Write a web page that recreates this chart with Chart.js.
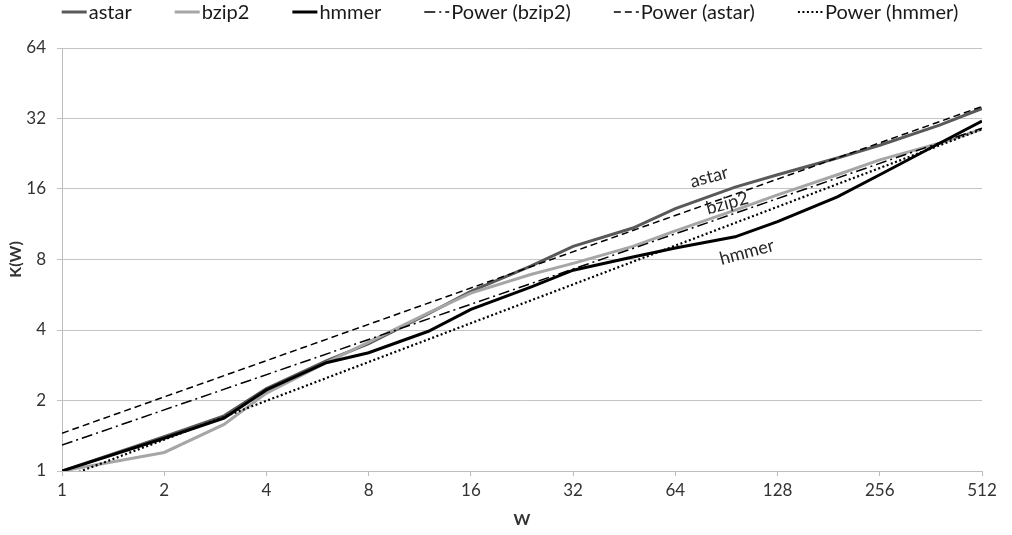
<!DOCTYPE html>
<html>
<head>
<meta charset="utf-8">
<script src="https://cdn.jsdelivr.net/npm/chart.js@4"></script>
<style>
  body { margin: 0; background: #fff; }
</style>
</head>
<body>
<canvas id="chart" width="1012" height="535"></canvas>
<script>
const wValues = [1, 2, 3, 4, 6, 8, 12, 16, 24, 32, 48, 64, 96, 128, 192, 256, 384, 512];
const astar = [1, 1.4, 1.72, 2.25, 2.95, 3.5, 4.7, 5.85, 7.5, 9.1, 10.9, 13.2, 16.3, 18.4, 21.7, 24.6, 30, 35.3];
const bzip2 = [1, 1.2, 1.58, 2.15, 2.9, 3.55, 4.73, 5.75, 6.9, 7.7, 9.1, 10.6, 13.0, 15.1, 18.4, 21.3, 25.1, 28.8];
const hmmer = [1, 1.38, 1.68, 2.22, 2.9, 3.2, 3.95, 4.9, 6.1, 7.2, 8.2, 8.95, 10, 11.6, 14.8, 18.4, 25.1, 31.2];

// trendline end points (W = 1 and W = 512)
const powerX = [1, 512];
const powerBzip2 = [1.29, 29.1];
const powerAstar = [1.45, 36];
const powerHmmer = [0.93, 28.8];

const xTicks = [1, 2, 4, 8, 16, 32, 64, 128, 256, 512];
const yTicks = [1, 2, 4, 8, 16, 32, 64];

// in-plot series labels: [text, W, K]
const seriesLabels = [
  ['astar', 80.5, 18],
  ['bzip2', 91, 13.9],
  ['hmmer', 104, 8.6]
];

const FONT = 'Lato, "Liberation Sans", Arial, sans-serif';

function points(xs, ys) {
  return xs.map((x, i) => ({ x: x, y: ys[i] }));
}

function lineSet(label, ys, color, order) {
  return {
    label: label,
    data: points(wValues, ys),
    borderColor: color,
    borderWidth: 3,
    pointRadius: 0,
    fill: false,
    tension: 0,
    order: order
  };
}

function powerSet(label, ys, dash, width) {
  return {
    label: label,
    data: points(powerX, ys),
    borderColor: '#000',
    borderWidth: width,
    borderDash: dash,
    pointRadius: 0,
    fill: false,
    order: 0
  };
}

const datasets = [
  lineSet('astar', astar, '#595959', 3),
  lineSet('bzip2', bzip2, '#a6a6a6', 2),
  lineSet('hmmer', hmmer, '#000000', 1),
  powerSet('Power (bzip2)', powerBzip2, [11, 4, 2, 4], 1.5),
  powerSet('Power (astar)', powerAstar, [7, 4], 1.5),
  powerSet('Power (hmmer)', powerHmmer, [2, 2.5], 2.2)
];

const legendPlugin = {
  id: 'topLegend',
  afterDraw(chart) {
    const ctx = chart.ctx;
    ctx.save();
    ctx.font = '20px ' + FONT;
    ctx.textBaseline = 'middle';
    const sample = 25, gapText = 2, gapItem = 43, y = 12;
    const widths = datasets.map(d => sample + gapText + ctx.measureText(d.label).width);
    const total = widths.reduce((a, b) => a + b, 0) + gapItem * (datasets.length - 1);
    let x = 510 - total / 2;
    datasets.forEach((d, i) => {
      ctx.beginPath();
      ctx.setLineDash(d.borderDash || []);
      ctx.lineWidth = d.borderWidth;
      ctx.strokeStyle = d.borderColor;
      ctx.moveTo(x, y);
      ctx.lineTo(x + sample, y);
      ctx.stroke();
      ctx.setLineDash([]);
      ctx.fillStyle = '#1a1a1a';
      ctx.fillText(d.label, x + sample + gapText, y + 1);
      x += widths[i] + gapItem;
    });
    ctx.restore();
  }
};

const seriesLabelPlugin = {
  id: 'seriesLabels',
  afterDatasetsDraw(chart) {
    const ctx = chart.ctx;
    const xs = chart.scales.x, ys = chart.scales.y;
    ctx.save();
    ctx.font = '18px ' + FONT;
    ctx.fillStyle = '#262626';
    ctx.textAlign = 'center';
    ctx.textBaseline = 'middle';
    seriesLabels.forEach(([text, w, k]) => {
      ctx.save();
      ctx.translate(xs.getPixelForValue(w), ys.getPixelForValue(k));
      ctx.rotate(-15 * Math.PI / 180);
      ctx.fillText(text, 0, 0);
      ctx.restore();
    });
    ctx.restore();
  }
};

new Chart(document.getElementById('chart'), {
  type: 'line',
  data: { datasets: datasets },
  options: {
    responsive: false,
    animation: false,
    layout: { padding: { left: 0, right: 30, top: 48, bottom: 0 } },
    plugins: {
      legend: { display: false },
      tooltip: { enabled: false }
    },
    scales: {
      x: {
        type: 'logarithmic',
        min: 1,
        max: 512,
        afterBuildTicks: scale => { scale.ticks = xTicks.map(v => ({ value: v })); },
        afterFit: scale => { scale.height = 64; },
        grid: { drawOnChartArea: false, drawTicks: true, tickLength: 5, color: '#bdbdbd' },
        border: { color: '#bdbdbd' },
        ticks: {
          callback: v => String(v),
          color: '#333',
          font: { family: FONT, size: 17 },
          padding: 4,
          maxRotation: 0,
          autoSkip: false
        },
        title: {
          display: true,
          text: 'W',
          color: '#333',
          font: { family: FONT, size: 16, weight: 'bold' },
          padding: { top: 6, bottom: 6 }
        }
      },
      y: {
        type: 'logarithmic',
        min: 1,
        max: 64,
        afterBuildTicks: scale => { scale.ticks = yTicks.map(v => ({ value: v })); },
        afterFit: scale => { scale.width = 62; },
        grid: { drawTicks: true, tickLength: 5, color: '#c4c4c4' },
        border: { color: '#bdbdbd' },
        ticks: {
          callback: v => String(v),
          color: '#333',
          font: { family: FONT, size: 17 },
          padding: 11,
          autoSkip: false
        },
        title: {
          display: true,
          text: 'K(W)',
          color: '#333',
          font: { family: FONT, size: 16, weight: 'bold' },
          padding: { top: 6, bottom: 6 }
        }
      }
    }
  },
  plugins: [legendPlugin, seriesLabelPlugin]
});
</script>
</body>
</html>
